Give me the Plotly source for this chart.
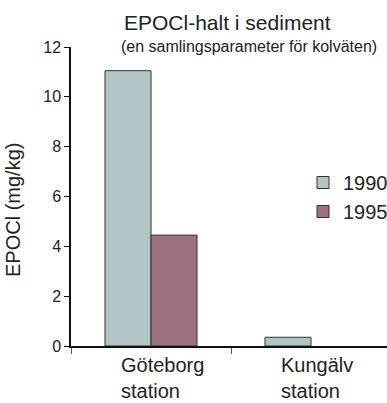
import plotly.graph_objects as go

categories = ["Göteborg<br>station", "Kungälv<br>station"]
series_names = ["1990", "1995"]
values_1990 = [11.05, 0.35]
values_1995 = [4.45, None]
colors = ["#b2c6c8", "#9d717d"]

FONT = "Liberation Sans"
TXT = "#222222"

W, H = 387, 403
pl, pr, pt, pb = 71, 0, 47, 57
pw, ph = W - pl - pr, H - pt - pb

def px(xp):
    return (xp - pl) / pw

def py(yp):
    return (H - pb - yp) / ph

fig = go.Figure()
for name, vals, col in zip(series_names, [values_1990, values_1995], colors):
    fig.add_trace(go.Bar(
        x=categories, y=vals, name=name,
        marker=dict(color=col, line=dict(color="#333333", width=1)),
    ))

fig.update_layout(
    width=W, height=H,
    margin=dict(l=pl, r=pr, t=pt, b=pb, autoexpand=False),
    paper_bgcolor="white", plot_bgcolor="white",
    barmode="group", bargap=0.425, bargroupgap=0,
    font=dict(family=FONT, color=TXT),
    showlegend=True,
    legend=dict(
        x=px(303), y=py(197), xanchor="left", yanchor="middle",
        font=dict(size=20, family=FONT, color=TXT),
        bgcolor="rgba(0,0,0,0)", tracegroupgap=0,
        itemwidth=30,
    ),
    xaxis=dict(
        range=[-0.5, 1.475], autorange=False,
        showline=True, linecolor="#111111", linewidth=1.5,
        ticks="outside", tickson="boundaries", ticklen=6, tickcolor="#555555",
        showticklabels=False,
        showgrid=False, zeroline=False,
    ),
    yaxis=dict(
        range=[0, 12], autorange=False, dtick=2,
        showline=True, linecolor="#111111", linewidth=1.5,
        ticks="outside", ticklen=5, tickcolor="#111111",
        tickfont=dict(size=16, family=FONT, color=TXT),
        showgrid=False, zeroline=False,
    ),
)

# category labels: left-aligned text blocks under each category
for cat in categories:
    fig.add_annotation(text=cat, x=cat, xref="x", y=py(352), yref="paper",
                       xanchor="left", yanchor="top", align="left", xshift=-32,
                       showarrow=False,
                       font=dict(size=20, family=FONT, color=TXT))

fig.add_annotation(text="EPOCl-halt i sediment", x=px(227), y=py(22),
                   xref="paper", yref="paper", showarrow=False,
                   xanchor="center", yanchor="middle",
                   font=dict(size=21, family=FONT, color=TXT))
fig.add_annotation(text="(en samlingsparameter för kolväten)", x=px(249), y=py(46),
                   xref="paper", yref="paper", showarrow=False,
                   xanchor="center", yanchor="middle",
                   font=dict(size=16, family=FONT, color=TXT))
fig.add_annotation(text="EPOCl (mg/kg)", x=px(13), y=py(210),
                   xref="paper", yref="paper", showarrow=False, textangle=-90,
                   xanchor="center", yanchor="middle",
                   font=dict(size=20, family=FONT, color=TXT))

fig.write_html("out.html")
